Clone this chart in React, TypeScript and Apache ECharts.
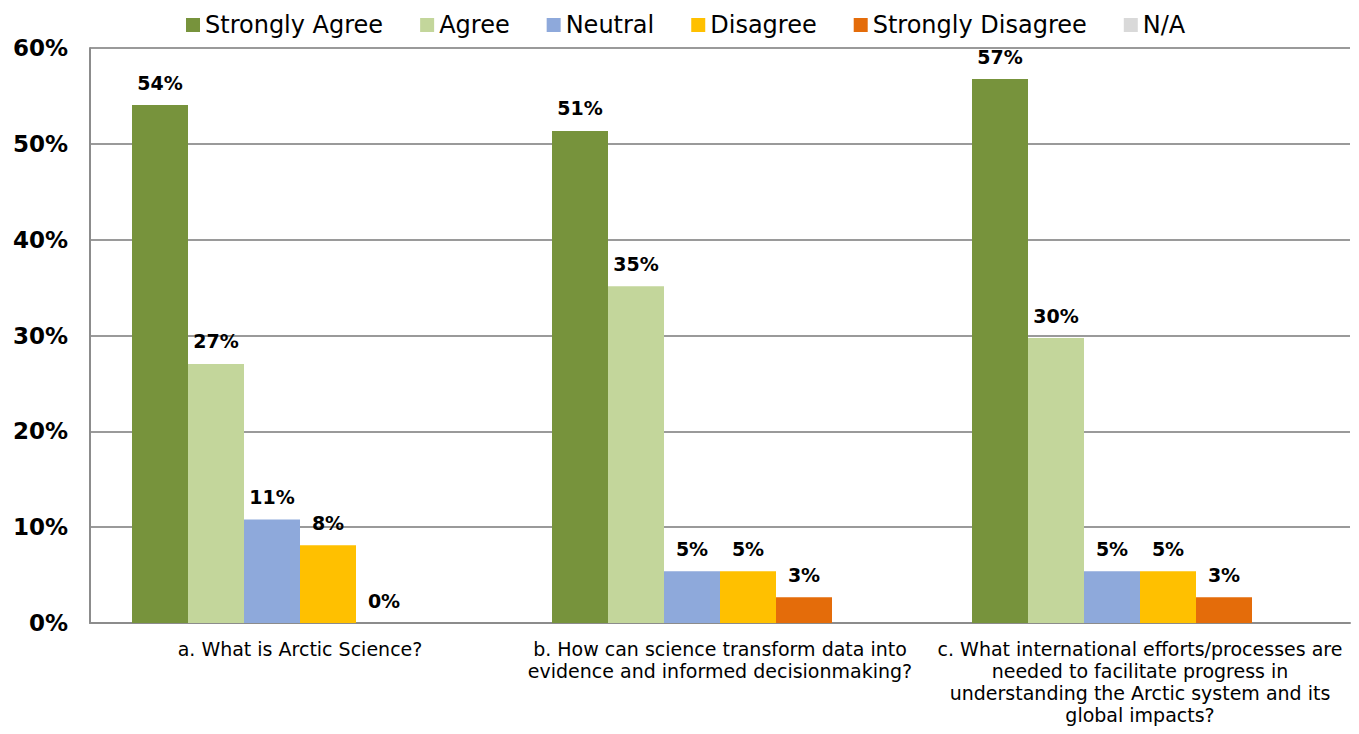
import React, { useEffect, useRef } from "react";
import * as echarts from "echarts";

const categories = [
  "a. What is Arctic Science?",
  "b. How can science transform data into\nevidence and informed decisionmaking?",
  "c. What international efforts/processes are\nneeded to facilitate progress in\nunderstanding the Arctic system and its\nglobal impacts?",
];
const seriesNames = ["Strongly Agree", "Agree", "Neutral", "Disagree", "Strongly Disagree", "N/A"];
const colors = ["#77933C", "#C3D69B", "#8EA9DB", "#FFC000", "#E46C0A", "#D9D9D9"];
const stronglyAgree = [54.05, 51.35, 56.76];
const agree = [27.03, 35.14, 29.73];
const neutral = [10.81, 5.41, 5.41];
const disagree = [8.11, 5.41, 5.41];
const stronglyDisagree = [0, 2.7, 2.7];
const na = [0, 0, 0];
const yTicks = [0, 10, 20, 30, 40, 50, 60];

export default function App() {
  const ref = useRef<HTMLDivElement>(null);
  useEffect(() => {
    if (!ref.current) return;
    const chart = echarts.init(ref.current, null, { renderer: "svg" });
    const data = [stronglyAgree, agree, neutral, disagree, stronglyDisagree, na];
    chart.setOption({
      animation: false,
      legend: {
        top: 0,
        left: 173,
        itemWidth: 14,
        itemHeight: 14,
        itemGap: 37,
        icon: "rect",
        textStyle: { fontFamily: "DejaVu Sans", fontSize: 24, color: "#000" },
        data: seriesNames,
      },
      grid: { left: 82, right: 1, top: 40, bottom: 96 },
      xAxis: {
        type: "category",
        data: categories,
        axisLine: { lineStyle: { color: "#8c8c8c", width: 2 } },
        axisTick: { show: false },
        axisLabel: {
          interval: 0,
          margin: 15,
          fontFamily: "DejaVu Sans",
          fontSize: 19,
          lineHeight: 22,
          color: "#000",
        },
      },
      yAxis: {
        type: "value",
        min: 0,
        max: 60,
        interval: 10,
        axisLine: { show: true, lineStyle: { color: "#8c8c8c", width: 2 } },
        splitLine: { lineStyle: { color: "#9a9a9a", width: 2 } },
        axisLabel: {
          margin: 22,
          fontFamily: "DejaVu Sans",
          fontWeight: "bold",
          fontSize: 23,
          color: "#000",
          formatter: (v: number) => (yTicks.includes(v) ? v + "%" : ""),
        },
      },
      series: seriesNames.map((name, i) => ({
        name,
        type: "bar",
        data: data[i],
        barGap: "0%",
        barCategoryGap: "20%",
        itemStyle: { color: colors[i] },
        label: {
          show: i < 5,
          position: "top",
          distance: 13,
          fontFamily: "DejaVu Sans",
          fontWeight: "bold",
          fontSize: 19,
          color: "#000",
          formatter: (p: any) => Math.round(p.value) + "%",
        },
      })),
    });
    return () => chart.dispose();
  }, []);
  return <div ref={ref} style={{ width: 1343, height: 718 }} />;
}
